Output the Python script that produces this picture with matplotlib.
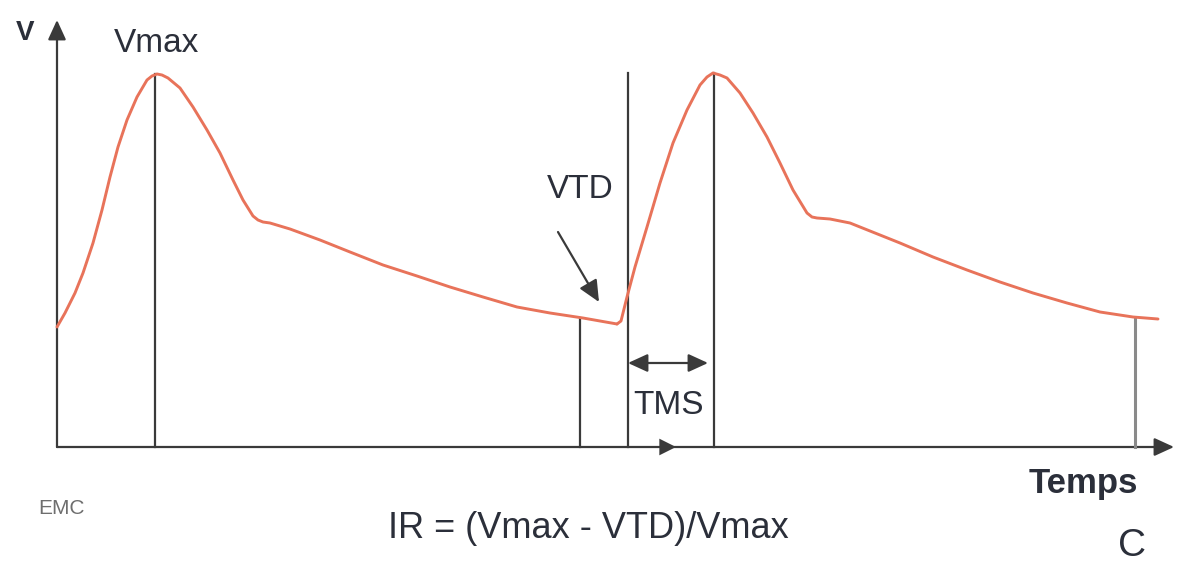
import matplotlib
matplotlib.use("Agg")
from matplotlib import pyplot as plt
from matplotlib.patches import FancyArrowPatch

# pressure wave (pixel units, y grows downward)
wave1_x = [57, 65, 75, 83, 93, 102, 110, 118, 127, 137, 147, 152, 157, 162,
           168, 180, 193, 207, 220, 233, 243, 253, 258, 263, 270, 290, 320,
           350, 383, 417, 450, 483, 517, 550, 583, 600, 617]
wave1_y = [327, 313, 293, 273, 243, 210, 177, 147, 120, 97, 80, 76, 74, 75,
           78, 88, 107, 130, 153, 180, 200, 216, 220, 222, 223, 229, 240,
           252, 265, 276, 287, 297, 307, 313, 318, 321, 324]
wave2_x = [617, 621, 627, 635, 647, 660, 673, 687, 700, 707, 713, 720, 727,
           740, 753, 767, 780, 793, 807, 812, 817, 830, 850, 875, 900, 933,
           967, 1000, 1033, 1067, 1100, 1133, 1158]
wave2_y = [324, 321, 297, 267, 227, 183, 143, 110, 85, 77, 73, 75, 78,
           93, 113, 137, 163, 190, 213, 217, 218, 219, 223, 233, 243, 257,
           270, 282, 293, 303, 312, 317, 319]

# vertical markers: x, top
markers_x = [155, 580, 628, 714]
markers_top = [74, 318, 73, 73]
end_marker_x = 1135
end_marker_top = 318

axis_y = 447
axis_x = 57

text_col = "#2b2f3a"
line_col = "#3a3a3a"
wave_col = "#e8735a"

plt.rcParams['font.family'] = ['Liberation Sans', 'DejaVu Sans']

fig = plt.figure(figsize=(11.77, 5.70), dpi=100)
ax = fig.add_axes([0, 0, 1, 1])
ax.set_xlim(0, 1177)
ax.set_ylim(570, 0)
ax.axis('off')


def arrow(p0, p1, style='-|>', lw=1.6, hl=12, hw=5.5, col=line_col):
    a = FancyArrowPatch(p0, p1, arrowstyle=f"{style},head_length={hl},head_width={hw}",
                        mutation_scale=1, lw=lw, color=col, shrinkA=0, shrinkB=0)
    ax.add_patch(a)


# axes
arrow((axis_x, axis_y), (axis_x, 20))
arrow((axis_x, axis_y), (1174, axis_y))
# small arrow on the time axis
arrow((600, axis_y), (676, axis_y), lw=0, hl=12, hw=6)

# vertical markers
for x, top in zip(markers_x, markers_top):
    ax.plot([x, x], [top, axis_y], color=line_col, lw=1.6)
ax.plot([end_marker_x, end_marker_x], [end_marker_top, axis_y], color="#8a8a8a", lw=2.2)

# waves
ax.plot(wave1_x, wave1_y, color=wave_col, lw=2.1, solid_joinstyle='round', solid_capstyle='round')
ax.plot(wave2_x, wave2_y, color=wave_col, lw=2.1, solid_joinstyle='round', solid_capstyle='round')

# VTD arrow and TMS double arrow
arrow((558, 232), (599, 302), hl=13, hw=6)
arrow((628, 363), (708, 363), style='<|-|>', hl=12, hw=5.5)

# labels
ax.text(25, 33, "V", fontsize=20, fontweight='bold', color=text_col, ha='center', va='center')
ax.text(157, 43, "Vmax", fontsize=24, color=text_col, ha='center', va='center')
ax.text(580, 190, "VTD", fontsize=24, color=text_col, ha='center', va='center')
ax.text(668, 406, "TMS", fontsize=24, color=text_col, ha='center', va='center')
ax.text(1083, 483, "Temps", fontsize=25, fontweight='bold', color=text_col, ha='center', va='center')
ax.text(588, 528, "IR = (Vmax - VTD)/Vmax", fontsize=26, color=text_col, ha='center', va='center')
ax.text(1132, 546, "C", fontsize=28, color=text_col, ha='center', va='center')
ax.text(61, 509, "EMC", fontsize=15, color="#6e6e6e", ha='center', va='center',
        family=['Liberation Sans Narrow', 'Liberation Sans'])

fig.savefig("out.png", dpi=100)
